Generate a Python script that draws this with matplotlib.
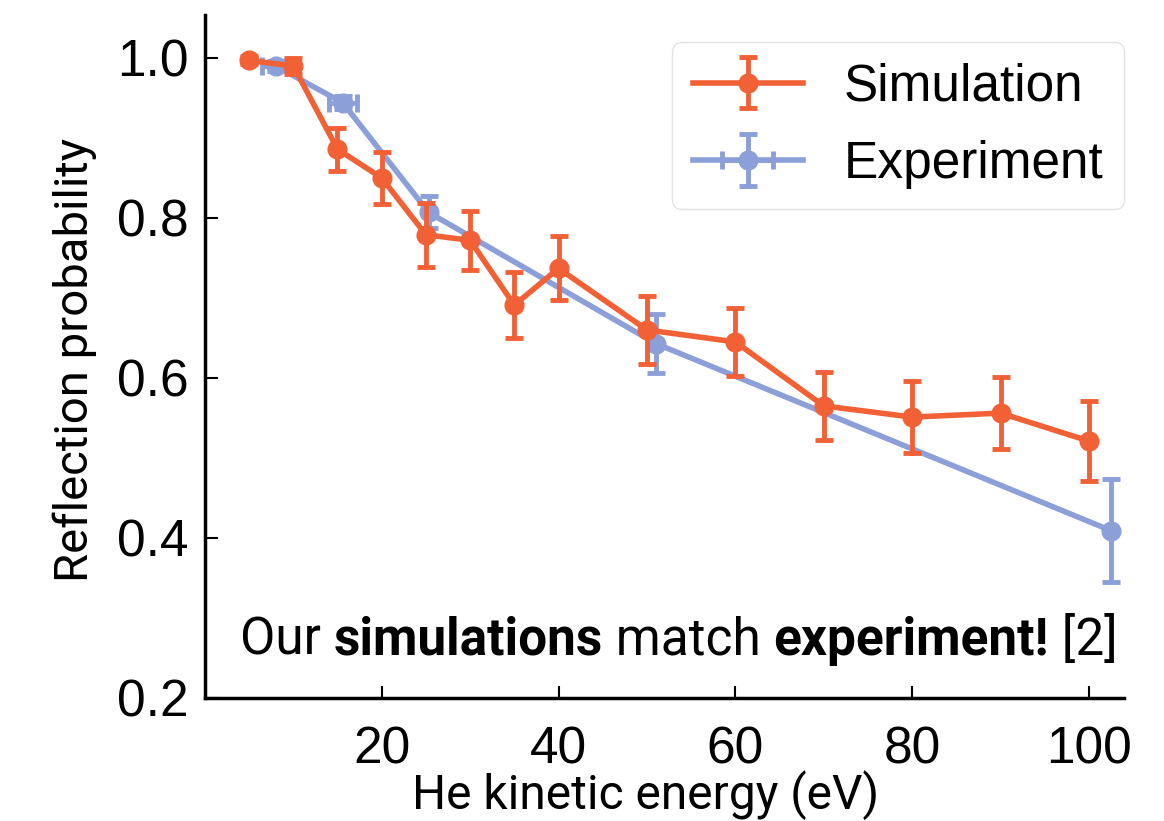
import matplotlib
matplotlib.use('Agg')
import matplotlib.pyplot as plt

# 데이터
sim_energy = [5, 10, 15, 20, 25, 30, 35, 40, 50, 60, 70, 80, 90, 100]
sim_prob = [0.997, 0.99, 0.886, 0.850, 0.779, 0.772, 0.691, 0.737, 0.660, 0.645, 0.565, 0.551, 0.556, 0.521]
sim_err = [0.005, 0.010, 0.027, 0.032, 0.040, 0.037, 0.041, 0.040, 0.042, 0.043, 0.043, 0.045, 0.045, 0.050]

exp_energy = [8.0, 15.6, 25.3, 51.0, 102.5]
exp_prob = [0.990, 0.944, 0.807, 0.643, 0.409]
exp_yerr = [0.006, 0.008, 0.020, 0.037, 0.064]
exp_xerr = [1.5, 1.6, 0.0, 0.0, 0.0]

orange = '#F26035'
blue = '#8C9FD8'

plt.rcParams['font.family'] = ['Liberation Sans', 'DejaVu Sans']
thin = ['Roboto', 'Liberation Sans', 'DejaVu Sans']

fig = plt.figure(figsize=(11.64, 8.21), dpi=100)
ax = fig.add_axes([0.176, 0.15, 0.79, 0.832])

ax.errorbar(sim_energy, sim_prob, yerr=sim_err, color=orange, lw=4, marker='o', ms=13.5,
            capsize=6.5, capthick=3.5, elinewidth=3.5, label='Simulation', zorder=3)
ax.errorbar(exp_energy, exp_prob, yerr=exp_yerr, xerr=exp_xerr, color=blue, lw=4, marker='o', ms=13.5,
            capsize=6.5, capthick=3.5, elinewidth=3.5, label='Experiment', zorder=2)

ax.set_xlim(0, 104)
ax.set_ylim(0.2, 1.054)
ax.set_xticks([20, 40, 60, 80, 100])
ax.set_yticks([0.2, 0.4, 0.6, 0.8, 1.0])
ax.set_yticklabels(['0.2', '0.4', '0.6', '0.8', '1.0'])
ax.tick_params(direction='in', length=9, width=1.5, labelsize=37)
ax.tick_params(axis='x', pad=20)
ax.tick_params(axis='y', pad=12)

ax.spines['top'].set_visible(False)
ax.spines['right'].set_visible(False)
ax.spines['left'].set_linewidth(2.5)
ax.spines['bottom'].set_linewidth(2.5)

ax.set_xlabel('He kinetic energy (eV)', fontsize=34.5, family=thin)
ax.xaxis.set_label_coords(0.479, -0.106)
ax.set_ylabel('Reflection probability', fontsize=34, family=thin)
ax.yaxis.set_label_coords(-0.117, 0.495)

leg = ax.legend(loc='upper right', fontsize=37, frameon=True, fancybox=True,
                borderpad=0.4, handlelength=2.15, handletextpad=0.8, labelspacing=0.55,
                borderaxespad=0, bbox_to_anchor=(1.0, 0.96))
leg.get_frame().set_edgecolor('#dddddd')

# 주석 텍스트 (굵기 섞기)
parts = [('Our ', 'normal'), ('simulations', 'bold'), (' match ', 'normal'),
         ('experiment!', 'bold'), (' [2]', 'normal')]
prev = None
for txt, w in parts:
    if prev is None:
        prev = ax.text(0.038, 0.063, txt, transform=ax.transAxes, fontsize=37,
                       family=thin, weight=w, va='baseline')
    else:
        prev = ax.annotate(txt, xy=(1, 0), xycoords=prev, fontsize=37,
                           family=thin, weight=w, va='bottom')

fig.savefig('out.png', dpi=100)
